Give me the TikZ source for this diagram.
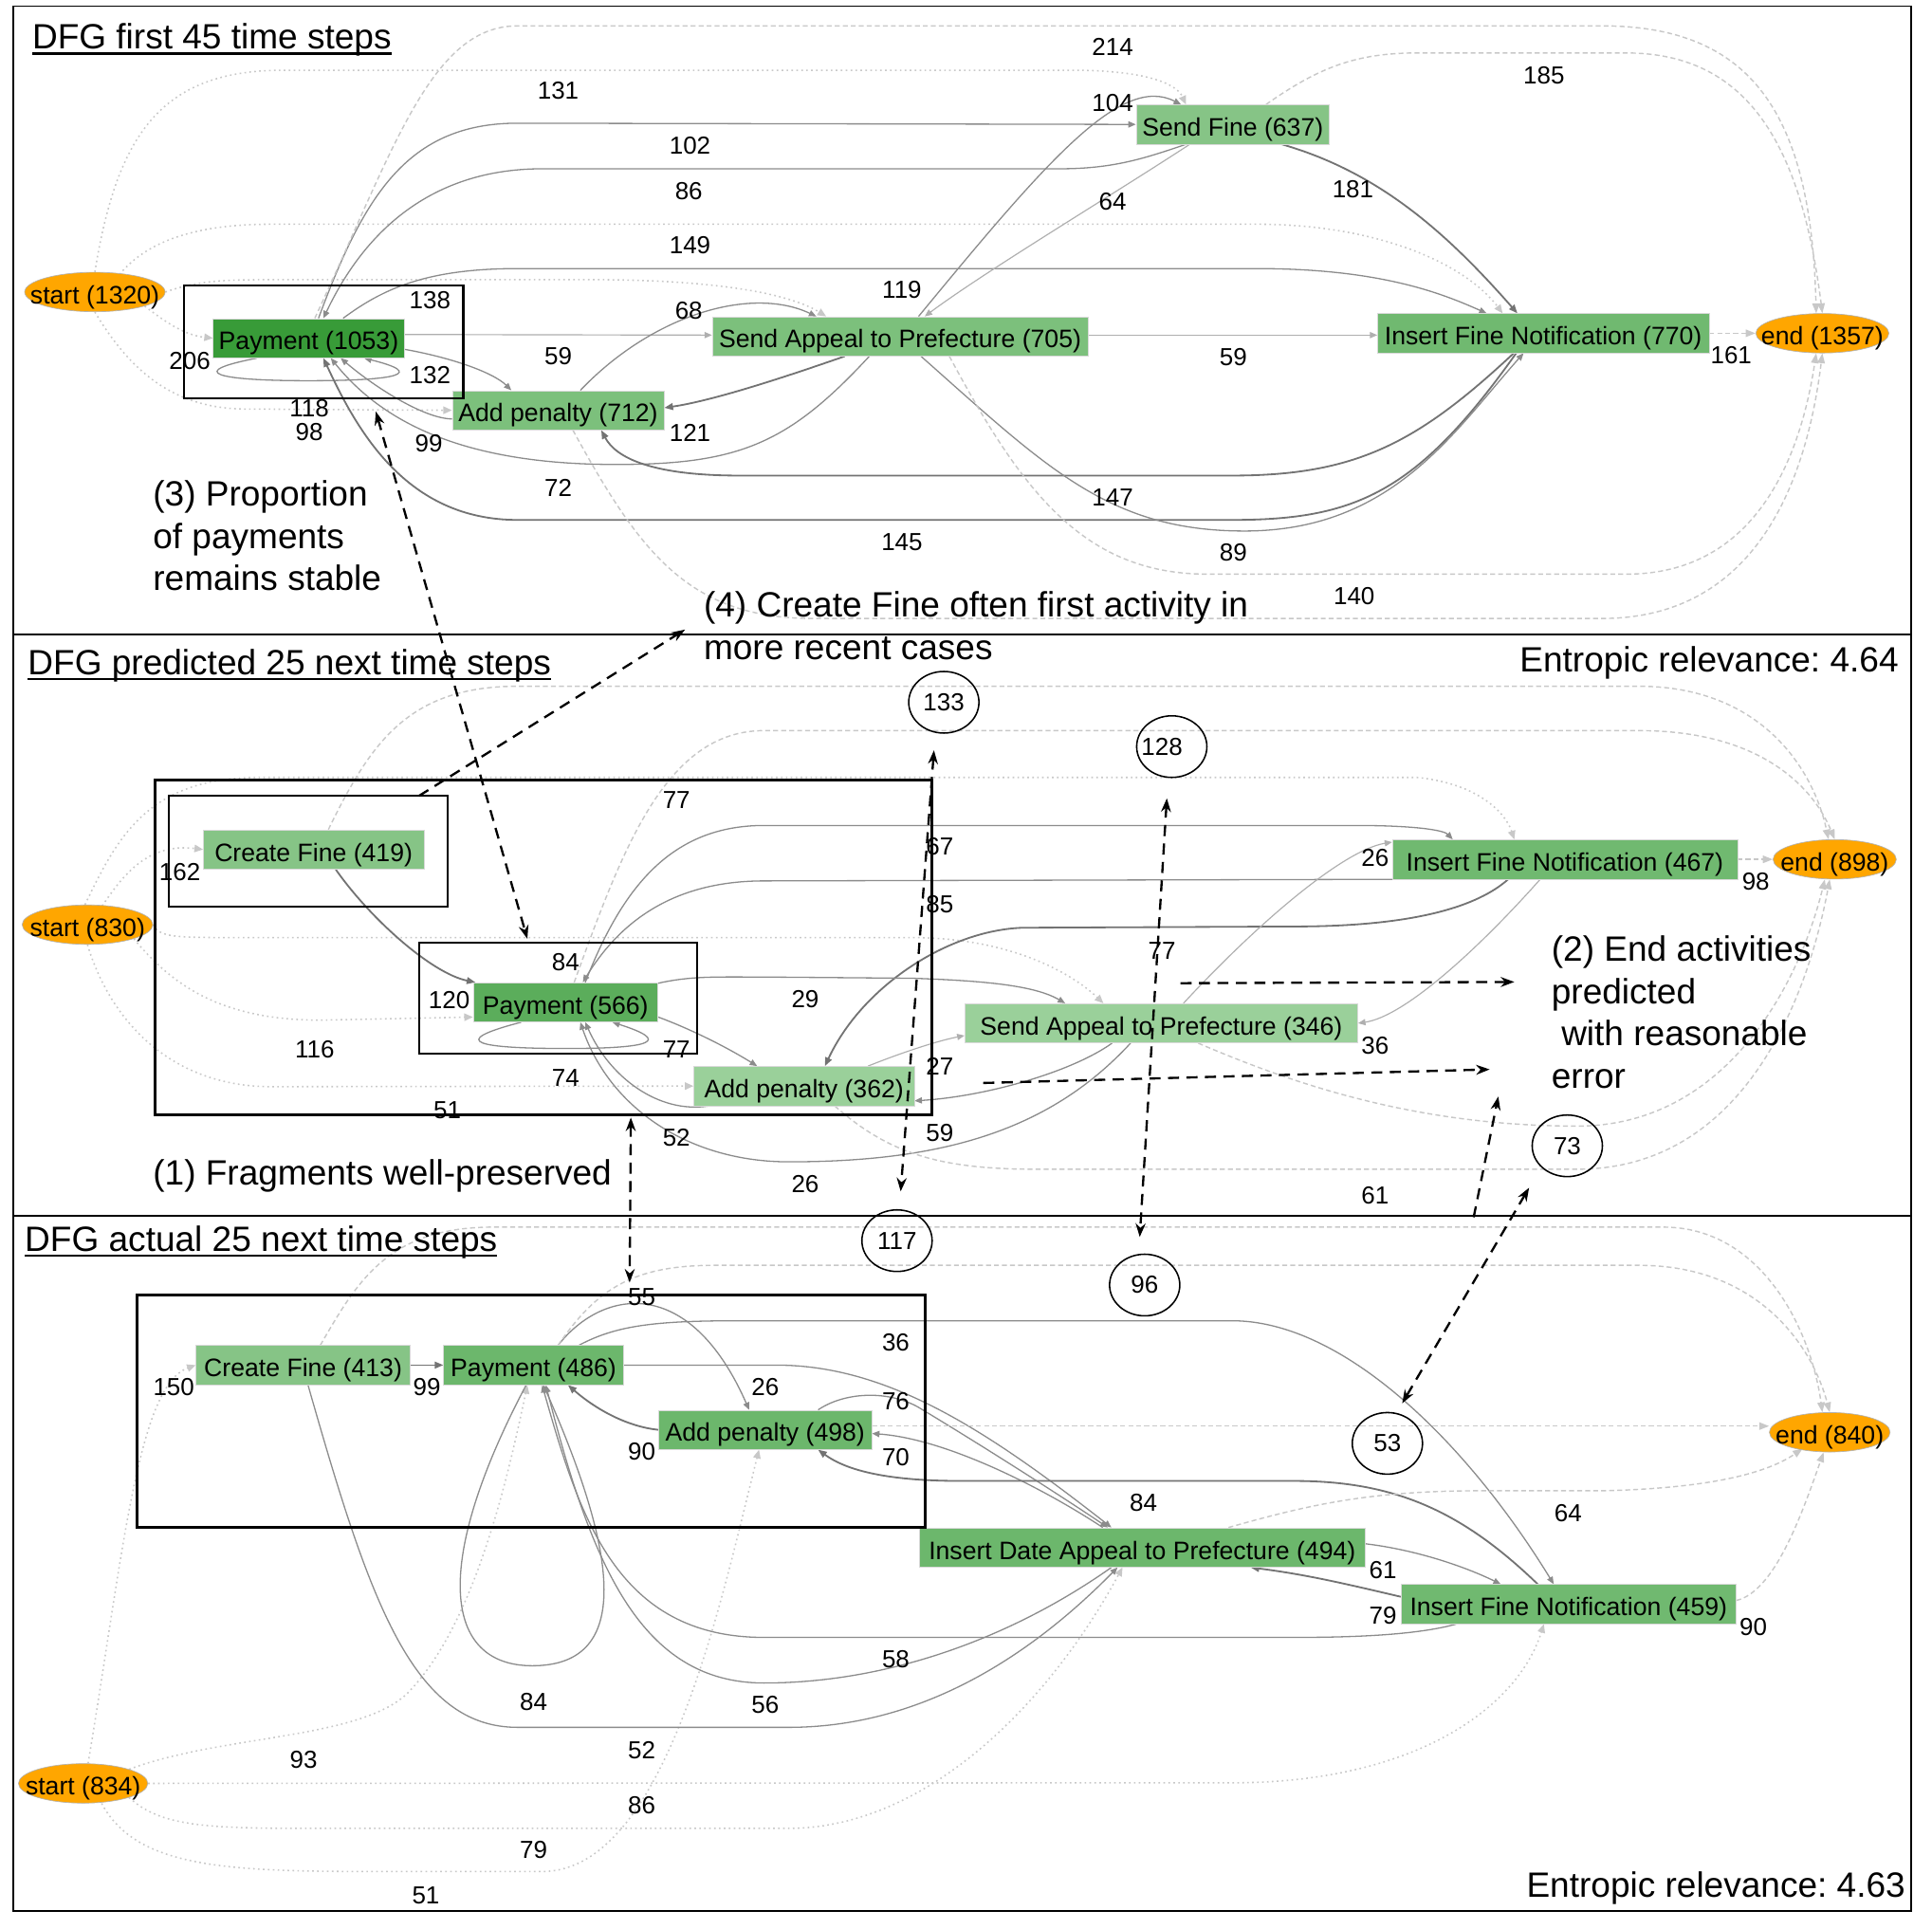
\documentclass[tikz,border=0pt]{standalone}
\usepackage{fontspec}
\setmainfont{Liberation Sans}
\usetikzlibrary{arrows.meta,calc,shapes.geometric}
\pgfdeclarelayer{base}
\pgfdeclarelayer{bg}
\pgfsetlayers{base,bg,main}
\definecolor{gDark}{RGB}{56,155,56}
\definecolor{gMid}{RGB}{91,173,91}
\definecolor{gBase}{RGB}{108,183,108}
\definecolor{gIFN}{RGB}{112,185,112}
\definecolor{gTop}{RGB}{124,192,124}
\definecolor{gLight}{RGB}{134,196,134}
\definecolor{gPale}{RGB}{154,208,154}
\definecolor{orng}{RGB}{255,166,0}
\definecolor{eHeavy}{RGB}{115,115,115}
\definecolor{eMid}{RGB}{140,140,140}
\definecolor{eLight}{RGB}{175,175,175}
\definecolor{eFaint}{RGB}{200,200,200}
\frenchspacing
\begin{document}
\begin{tikzpicture}[x=1pt,y=-1pt,
 act/.style={rectangle, inner sep=0pt, minimum height=32pt, text height=19pt, text depth=0pt, font=\fontsize{20.5}{24}\selectfont, draw=black!15, line width=0.4pt},
 evt/.style={ellipse, inner sep=0pt, fill=orng, draw=black!30, line width=0.5pt, minimum height=32pt, text height=19pt, text depth=0pt, font=\fontsize{20.5}{24}\selectfont},
 lbl/.style={inner sep=0pt, font=\fontsize{20}{24}\selectfont},
 circl/.style={ellipse, draw=black, line width=1.2pt, minimum width=57pt, minimum height=50pt, inner sep=0pt, font=\fontsize{20}{24}\selectfont},
 ann/.style={inner sep=0pt, anchor=base west, font=\fontsize{28.5}{34}\selectfont},
 annr/.style={inner sep=0pt, anchor=base east, font=\fontsize{28.5}{34}\selectfont},
 hbox/.style={draw=black, line width=1.6pt},
 bigbox/.style={draw=black, line width=2.3pt},
 edgeH/.style={draw=eHeavy, line width=1.4pt, -{Triangle[length=7pt,width=5.5pt]}},
 edgeM/.style={draw=eMid, line width=1pt, -{Triangle[length=6pt,width=5pt]}},
 edgeL/.style={draw=eLight, line width=0.9pt, -{Triangle[length=6pt,width=5pt]}},
 edgeS/.style={draw=eFaint, line width=1.2pt, dash pattern=on 1.3pt off 2.7pt, -{Triangle[length=7pt,width=6pt]}},
 edgeE/.style={draw=eFaint, line width=1.1pt, dash pattern=on 4pt off 2.5pt, -{Triangle[length=8pt,width=6pt]}},
 annarr/.style={draw=black, line width=1.8pt, dash pattern=on 9pt off 6pt, -{Stealth[length=11pt,width=8pt]}},
 annarrb/.style={draw=black, line width=1.8pt, dash pattern=on 9pt off 6pt, {Stealth[length=11pt,width=8pt]}-{Stealth[length=11pt,width=8pt]}},
]
\useasboundingbox (0,0) rectangle (1568,1565);
\begin{pgfonlayer}{base}
\fill[white] (0,0) rectangle (1568,1565);
\end{pgfonlayer}

% ---------- frames ----------
\draw[line width=1.4pt] (11,5) rectangle (1551,1551);
\draw[line width=1.4pt] (11,515) -- (1551,515);
\draw[line width=1.4pt] (11,987) -- (1551,987);

% ---------- top nodes ----------
\node[evt, minimum width=114pt] (st1) at (77,237) {\makebox[80pt]{start (1320)}};
\node[act, fill=gDark, minimum width=155pt] (p1) at (250.5,274.5) {Payment (1053)};
\node[act, fill=gTop, minimum width=172pt] (ap1) at (453,333) {Add penalty (712)};
\node[act, fill=gTop, minimum width=305pt] (sa1) at (730.5,273) {Send Appeal to Prefecture (705)};
\node[act, fill=gLight, minimum width=157pt] (sf1) at (1000.5,101) {Send Fine (637)};
\node[act, fill=gIFN, minimum width=269pt] (ifn1) at (1252.5,270.5) {Insert Fine Notification (770)};
\node[evt, minimum width=108pt] (en1) at (1479,270.5) {\makebox[76pt]{end (1357)}};

% ---------- middle nodes ----------
\node[evt, minimum width=106pt] (st2) at (71,750.5) {\makebox[75pt]{start (830)}};
\node[act, fill=gLight, minimum width=179pt] (cf2) at (254.5,689.5) {Create Fine (419)};
\node[act, fill=gMid, minimum width=150pt] (p2) at (459,813.5) {Payment (566)};
\node[act, fill=gPale, minimum width=179pt] (ap2) at (652.5,881.5) {Add penalty (362)};
\node[act, fill=gPale, minimum width=319pt] (sa2) at (942.5,830.5) {Send Appeal to Prefecture (346)};
\node[act, fill=gIFN, minimum width=280pt] (ifn2) at (1270,697.5) {Insert Fine Notification (467)};
\node[evt, minimum width=100pt] (en2) at (1489,697.5) {\makebox[70pt]{end (898)}};

% ---------- bottom nodes ----------
\node[act, fill=gLight, minimum width=174pt] (cf3) at (246,1108) {Create Fine (413)};
\node[act, fill=gBase, minimum width=146pt] (p3) at (433,1108) {Payment (486)};
\node[act, fill=gBase, minimum width=173pt] (ap3) at (621,1160.5) {Add penalty (498)};
\node[act, fill=gBase, minimum width=362pt] (ida3) at (927,1256) {Insert Date Appeal to Prefecture (494)};
\node[act, fill=gIFN, minimum width=272pt] (ifn3) at (1273,1302) {Insert Fine Notification (459)};
\node[evt, minimum width=105pt] (st3) at (67.5,1447.5) {\makebox[74pt]{start (834)}};
\node[evt, minimum width=98pt] (en3) at (1485,1162.5) {\makebox[69pt]{end (840)}};

\begin{pgfonlayer}{bg}
% ===== top panel edges =====
\draw[edgeS] (st1.south east) .. controls (135,262) and (150,272) .. (p1.west);
\draw[edgeS] (st1.north) .. controls (95,110) and (130,57) .. (230,57) -- (870,57) .. controls (930,57) and (955,68) .. ($(sf1.north)+(-38,0)$);
\draw[edgeS] ($(st1.north)+(20,2)$) .. controls (120,195) and (160,182) .. (220,182) -- (1020,182) .. controls (1120,182) and (1190,215) .. ($(ifn1.north)+(-33,0)$);
\draw[edgeS] (st1.east) .. controls (160,228) and (180,227) .. (220,227) -- (480,227) .. controls (580,227) and (640,238) .. ($(sa1.north)+(-60,0)$);
\draw[edgeS] (st1.south) .. controls (105,300) and (140,332) .. (200,332) -- (ap1.west);

\draw[edgeM] ($(p1.north)+(8,0)$) .. controls (295,160) and (330,100) .. (420,100) -- (sf1.west);
\draw[edgeM] ($(sf1.south)+(-38,0)$) .. controls (930,128) and (905,137) .. (860,137) -- (440,137) .. controls (340,137) and (290,200) .. ($(p1.north)+(12,0)$);
\draw[edgeM] ($(p1.north)+(28,0)$) .. controls (310,235) and (345,218) .. (420,218) -- (1020,218) .. controls (1120,218) and (1170,238) .. ($(ifn1.north)+(-46,0)$);
\draw[edgeL] ($(p1.east)+(0,-3)$) -- ($(sa1.west)+(0,-1)$);
\draw[edgeM] ($(p1.east)+(0,9)$) .. controls (365,290) and (400,302) .. ($(ap1.north)+(-38,0)$);
\draw[edgeM] ($(p1.south)+(-42,0)$) .. controls (150,302) and (175,309) .. (250,309) .. controls (325,309) and (345,303) .. ($(p1.south)+(45,0)$);
\draw[edgeM] ($(ap1.west)+(0,7)$) .. controls (345,340) and (305,315) .. ($(p1.south)+(26,0)$);
\draw[edgeM] ($(ap1.north)+(18,0)$) .. controls (530,255) and (610,232) .. ($(sa1.north)+(-68,0)$);
\draw[edgeH] ($(sa1.south)+(-45,0)$) .. controls (640,305) and (580,325) .. ($(ap1.east)+(0,-2)$);
\draw[edgeM] ($(sa1.south)+(-25,0)$) .. controls (640,360) and (600,377) .. (500,377) .. controls (400,377) and (320,355) .. ($(p1.south)+(18,0)$);
\draw[edgeH] ($(ifn1.south)+(-24,0)$) .. controls (1150,360) and (1100,386) .. (1000,386) -- (600,386) .. controls (530,386) and (500,372) .. ($(ap1.south)+(35,0)$);
\draw[edgeH] ($(ifn1.south)+(-22,0)$) .. controls (1150,400) and (1100,422) .. (1000,422) -- (420,422) .. controls (330,422) and (290,350) .. ($(p1.south)+(12,0)$);
\draw[edgeM] ($(sa1.south)+(17,0)$) .. controls (850,380) and (900,431) .. (1010,431) .. controls (1130,431) and (1180,350) .. ($(ifn1.south)+(-16,0)$);
\draw[edgeL] ($(sa1.east)+(0,-1)$) -- ($(ifn1.west)+(0,1.5)$);
\draw[edgeM] ($(sa1.north)+(15,0)$) .. controls (850,130) and (910,60) .. ($(sf1.north)+(-42,0)$);
\draw[edgeL] ($(sf1.south)+(-35,0)$) .. controls (900,160) and (800,220) .. ($(sa1.north)+(20,0)$);
\draw[edgeH] ($(sf1.south)+(40,0)$) .. controls (1120,140) and (1175,190) .. ($(ifn1.north)+(-21,0)$);

\draw[edgeE] ($(p1.north)+(5,0)$) .. controls (320,120) and (350,21) .. (420,21) -- (1300,21) .. controls (1420,21) and (1470,90) .. ($(en1.north)+(-5,0)$);
\draw[edgeE] ($(sf1.north)+(27,0)$) .. controls (1070,55) and (1100,43) .. (1150,43) -- (1320,43) .. controls (1420,43) and (1462,120) .. (en1.north);
\draw[edgeE] (ifn1.east) -- (en1.west);
\draw[edgeE] ($(sa1.south)+(40,0)$) .. controls (830,400) and (880,466) .. (980,466) -- (1320,466) .. controls (1420,466) and (1460,380) .. ($(en1.south)+(-5,0)$);
\draw[edgeE] ($(ap1.south)+(12,0)$) .. controls (520,450) and (560,502) .. (660,502) -- (1300,502) .. controls (1420,502) and (1465,400) .. (en1.south);

% ===== middle panel edges =====
\draw[edgeS] ($(st2.north)+(12,1)$) .. controls (100,710) and (120,684) .. (cf2.west);
\draw[edgeS] ($(st2.north)+(-2,0)$) .. controls (95,680) and (120,631) .. (210,631) -- (1150,631) .. controls (1200,636) and (1222,660) .. ($(ifn2.north)+(-41,0)$);
\draw[edgeS] (st2.east) .. controls (130,761) and (140,761) .. (200,761) -- (740,761) .. controls (820,761) and (870,790) .. ($(sa2.north)+(-47,0)$);
\draw[edgeS] (st2.south east) .. controls (140,800) and (180,828) .. (260,828) -- ($(p2.west)+(0,12)$);
\draw[edgeS] (st2.south) .. controls (90,830) and (140,882) .. (220,882) -- (ap2.west);

\draw[edgeH] ($(cf2.south)+(18,0)$) .. controls (300,745) and (350,790) .. ($(p2.north west)+(2,0)$);
\draw[edgeM] ($(p2.north)+(16,0)$) .. controls (505,720) and (545,670) .. (620,670) -- (1100,670) .. controls (1150,670) and (1172,674) .. ($(ifn2.north)+(-91,0)$);
\draw[edgeM] ($(ifn2.south west)+(3,0)$) -- (620,715) .. controls (550,715) and (505,745) .. ($(p2.north)+(14,0)$);
\draw[edgeH] ($(ifn2.south)+(-46,0)$) .. controls (1200,735) and (1150,752) .. (1050,752) -- (830,753) .. controls (770,755) and (700,800) .. ($(ap2.north)+(17,0)$);
\draw[edgeM] ($(p2.east)+(-2,-15)$) .. controls (560,792) and (580,793) .. (620,793) -- (740,794) .. controls (800,796) and (840,800) .. ($(sa2.north)+(-78,0)$);
\draw[edgeM] ($(p2.east)+(0,12)$) .. controls (560,835) and (590,850) .. ($(ap2.north)+(-38,0)$);
\draw[edgeM] ($(p2.south)+(-36,0)$) .. controls (360,846) and (390,851) .. (460,851) .. controls (530,851) and (545,845) .. ($(p2.south)+(38,0)$);
\draw[edgeM] ($(ap2.south west)+(12,0)$) .. controls (535,904) and (495,875) .. ($(p2.south)+(16,0)$);
\draw[edgeM] ($(sa2.south)+(-25,0)$) .. controls (850,920) and (760,943) .. (640,943) .. controls (560,943) and (495,900) .. ($(p2.south)+(12,0)$);
\draw[edgeL] ($(ap2.north)+(52,0)$) .. controls (730,855) and (760,845) .. ($(sa2.west)+(0,10)$);
\draw[edgeM] ($(sa2.south)+(-40,0)$) .. controls (870,870) and (800,890) .. ($(ap2.east)+(0,12)$);
\draw[edgeL] ($(ifn2.south)+(-20,0)$) .. controls (1200,770) and (1140,825) .. (sa2.east);
\draw[edgeL] ($(sa2.north)+(18,0)$) .. controls (1020,750) and (1090,690) .. ($(ifn2.west)+(0,-14)$);

\draw[edgeE] ($(cf2.north)+(12,0)$) .. controls (300,605) and (330,557) .. (420,557) -- (1330,557) .. controls (1430,557) and (1472,625) .. ($(en2.north)+(-5,0)$);
\draw[edgeE] ($(p2.north)+(7,0)$) .. controls (505,690) and (540,593) .. (620,593) -- (1330,593) .. controls (1430,593) and (1472,640) .. (en2.north);
\draw[edgeE] (ifn2.east) -- (en2.west);
\draw[edgeE] ($(sa2.south)+(30,0)$) .. controls (1050,880) and (1150,914) .. (1280,914) .. controls (1400,914) and (1460,800) .. ($(en2.south)+(-8,0)$);
\draw[edgeE] ($(ap2.south)+(25,0)$) .. controls (720,935) and (760,949) .. (840,949) -- (1280,949) .. controls (1410,949) and (1465,820) .. ($(en2.south)+(-4,0)$);

% ===== bottom panel edges =====
\draw[edgeS] ($(st3.north)+(4,0)$) .. controls (100,1260) and (112,1125) .. (cf3.west);
\draw[edgeS] (st3.north east) .. controls (180,1408) and (290,1412) .. (330,1375) .. controls (385,1320) and (412,1200) .. ($(p3.south)+(-5,0)$);
\draw[edgeS] (st3.east) -- (1000,1447) .. controls (1150,1447) and (1232,1385) .. ($(ifn3.south)+(-20,0)$);
\draw[edgeS] (st3.south east) .. controls (130,1482) and (165,1484) .. (250,1484) -- (640,1484) .. controls (750,1484) and (850,1385) .. ($(ida3.south)+(-16,0)$);
\draw[edgeS] ($(st3.south)+(15,0)$) .. controls (110,1515) and (180,1519) .. (300,1519) -- (440,1519) .. controls (540,1519) and (585,1300) .. ($(ap3.south)+(-5,0)$);

\draw[edgeH] (cf3.east) -- (p3.west);
\draw[edgeM] ($(p3.north)+(20,0)$) .. controls (490,1045) and (560,1035) .. ($(ap3.north)+(-13,0)$);
\draw[edgeM] ($(p3.north)+(37,0)$) .. controls (500,1076) and (530,1072) .. (600,1072) -- (1000,1072) .. controls (1090,1072) and (1190,1170) .. ($(ifn3.north)+(-12,0)$);
\draw[edgeM] (p3.east) -- (630,1108) .. controls (720,1108) and (800,1160) .. ($(ida3.north)+(-25,0)$);
\draw[edgeH] (ap3.west) .. controls (510,1158) and (485,1145) .. ($(p3.south)+(28,0)$);
\draw[edgeM] ($(ap3.north)+(43,0)$) .. controls (685,1130) and (720,1128) .. (745,1142) .. controls (800,1175) and (870,1220) .. ($(ida3.north)+(-28,0)$);
\draw[edgeM] ($(ida3.north)+(-32,0)$) .. controls (850,1210) and (770,1168) .. ($(ap3.east)+(0,3)$);
\draw[edgeH] ($(ifn3.north)+(-25,0)$) .. controls (1185,1225) and (1130,1202) .. (1050,1202) -- (780,1202) .. controls (715,1202) and (685,1192) .. ($(ap3.south)+(43,0)$);
\draw[edgeM] ($(ida3.east)+(0,-3)$) .. controls (1150,1258) and (1190,1272) .. ($(ifn3.north)+(-55,0)$);
\draw[edgeH] ($(ifn3.west)+(0,-6)$) .. controls (1090,1285) and (1060,1278) .. ($(ida3.south)+(88,0)$);
\draw[edgeM] ($(ifn3.south west)+(45,0)$) .. controls (1150,1327) and (1100,1329) .. (1050,1329) -- (620,1329) .. controls (500,1329) and (470,1230) .. ($(p3.south)+(7,0)$);
\draw[edgeM] ($(ida3.south)+(-25,0)$) .. controls (820,1330) and (720,1366) .. (620,1366) .. controls (520,1366) and (480,1270) .. ($(p3.south)+(10,0)$);
\draw[edgeM] ($(cf3.south)+(4,0)$) .. controls (300,1300) and (335,1402) .. (420,1402) -- (640,1402) .. controls (760,1402) and (850,1330) .. ($(ida3.south)+(-20,0)$);
\draw[edgeM] ($(p3.south)+(-6,0)$) .. controls (350,1270) and (360,1352) .. (432,1352) .. controls (505,1352) and (510,1280) .. ($(p3.south)+(8,0)$);

\draw[edgeE] ($(cf3.north)+(14,0)$) .. controls (290,1040) and (315,996) .. (400,996) -- (1350,996) .. controls (1430,996) and (1470,1080) .. ($(en3.north)+(-6,0)$);
\draw[edgeE] ($(p3.north)+(20,0)$) .. controls (485,1045) and (515,1027) .. (580,1027) -- (1330,1027) .. controls (1425,1027) and (1470,1090) .. (en3.north);
\draw[edgeE] ($(ap3.east)+(0,-3)$) -- ($(en3.west)+(0,-5)$);
\draw[edgeE] ($(ida3.north)+(70,0)$) .. controls (1060,1222) and (1110,1210) .. (1200,1210) -- (1300,1210) .. controls (1390,1208) and (1435,1195) .. ($(en3.south)+(-22,-3)$);
\draw[edgeE] ($(ifn3.east)+(0,-3)$) .. controls (1440,1292) and (1462,1230) .. ($(en3.south)+(-5,0)$);
\end{pgfonlayer}

% ---------- highlight boxes ----------
\draw[hbox] (149,232) rectangle (376,323);
\draw[bigbox] (126,633) rectangle (756,905);
\draw[hbox] (137,646) rectangle (363,736);
\draw[hbox] (340,765) rectangle (566,855);
\draw[bigbox] (111,1051) rectangle (751,1240);

% ---------- circled labels ----------
\node[circl] (c133) at (766,570) {133};
\node[circl] (c128) at (951,606) {\hspace*{-16pt}128};
\node[circl] (c73) at (1272,930) {73};
\node[circl] (c117) at (728,1007) {117};
\node[circl] (c96) at (929,1043) {96};
\node[circl] (c53) at (1126,1171.5) {53};

% ---------- edge labels ----------
\foreach \t/\x/\y [count=\i] in {214/903/38, 131/453/73.5, 185/1253/61, 104/903/83.5, 102/560/118.5, 86/559/155, 64/903/163.6, 181/1098/153.6, 149/560/199, 119/732/235, 138/349/244, 68/559/252, 59/453/289, 59/1001/290, 206/154/293, 132/349/304.5, 161/1405/288, 118/251/331.5, 98/251/351, 121/560/351, 99/348/360, 72/453/396, 147/903/404, 145/732/440, 89/1001/448.4, 140/1099/484}
  \node[lbl] (lt\i) at (\x,\y) {\t};
\foreach \t/\x/\y [count=\i] in {77/549/649.5, 67/762.7/687, 162/146/708, 85/762.7/733.7, 26/1116/696.6, 98/1425/715.5, 84/459/781, 77/943/772, 120/364.6/811.6, 29/653.5/811.3, 36/1116/849, 116/255.4/851.5, 77/549/851.5, 74/459/875, 27/762.7/865.7, 51/363/900.8, 52/549/923.5, 59/762.7/919.7, 26/653.5/961, 61/1116/970}
  \node[lbl] (lm\i) at (\x,\y) {\t};
\foreach \t/\x/\y [count=\i] in {55/520.8/1052.6, 36/727/1089.8, 150/141/1126, 99/346.5/1126, 26/621/1126, 76/727/1137, 90/520.8/1178.4, 70/727/1182.8, 84/928/1220, 64/1272.7/1228.4, 61/1122.4/1274.7, 79/1122.4/1311, 90/1423/1320.3, 58/727/1347, 84/433/1381.6, 56/621/1384, 52/520.8/1420.6, 93/246.4/1428.3, 86/520.8/1465.5, 79/433/1501.3, 51/345.6/1538.5}
  \node[lbl] (lb\i) at (\x,\y) {\t};

% ---------- titles ----------
\node[ann] (t1) at (26,39.5) {DFG first 45 time steps};
\draw[line width=1.8pt] ($(t1.base west)+(0,4)$) -- ($(t1.base east)+(0,4)$);
\node[ann] (t2) at (22.5,547.5) {DFG predicted 25 next time steps};
\draw[line width=1.8pt] ($(t2.base west)+(0,3.5)$) -- ($(t2.base east)+(0,3.5)$);
\node[ann] (t3) at (20,1015.5) {DFG actual 25 next time steps};
\draw[line width=1.8pt] ($(t3.base west)+(0,3.5)$) -- ($(t3.base east)+(0,3.5)$);
\node[annr] (er1) at (1541,545) {Entropic relevance: 4.64};
\node[annr] (er2) at (1546.5,1540) {Entropic relevance: 4.63};

% ---------- annotations ----------
\node[ann] (a3a) at (124,411) {(3) Proportion};
\node[ann] (a3b) at (124,445) {of payments};
\node[ann] (a3c) at (124,479) {remains stable};
\node[ann] (a4a) at (571,501) {(4) Create Fine often first activity in};
\node[ann] (a4b) at (571,535) {more recent cases};
\node[ann] (a1a) at (124,962) {(1) Fragments well-preserved};
\node[ann] (a2a) at (1259,780) {(2) End activities};
\node[ann] (a2b) at (1259,814.5) {predicted};
\node[ann] (a2c) at (1259,849) {\hspace*{8pt}with reasonable};
\node[ann] (a2d) at (1259,883.5) {error};

% ---------- annotation arrows ----------
\coordinate (q1a) at (305,334); \coordinate (q1b) at (428,762);
\coordinate (q2a) at (340,646); \coordinate (q2b) at (556,511);
\coordinate (q3a) at (758,609); \coordinate (q3b) at (731,967);
\coordinate (q4a) at (947,648); \coordinate (q4b) at (925,1004);
\coordinate (q5a) at (512,907); \coordinate (q5b) at (511,1041);
\coordinate (q6a) at (958,798); \coordinate (q6b) at (1229,797);
\coordinate (q7a) at (798,879); \coordinate (q7b) at (1209,868);
\coordinate (q8a) at (1196,988); \coordinate (q8b) at (1216,890);
\coordinate (q9a) at (1241,964); \coordinate (q9b) at (1138,1139);
\draw[annarrb] (q1a) -- (q1b);
\draw[annarr] (q2a) -- (q2b);
\draw[annarrb] (q3a) -- (q3b);
\draw[annarrb] (q4a) -- (q4b);
\draw[annarrb] (q5a) -- (q5b);
\draw[annarr] (q6a) -- (q6b);
\draw[annarr] (q7a) -- (q7b);
\draw[annarr] (q8a) -- (q8b);
\draw[annarrb] (q9a) -- (q9b);
\end{tikzpicture}
\end{document}
